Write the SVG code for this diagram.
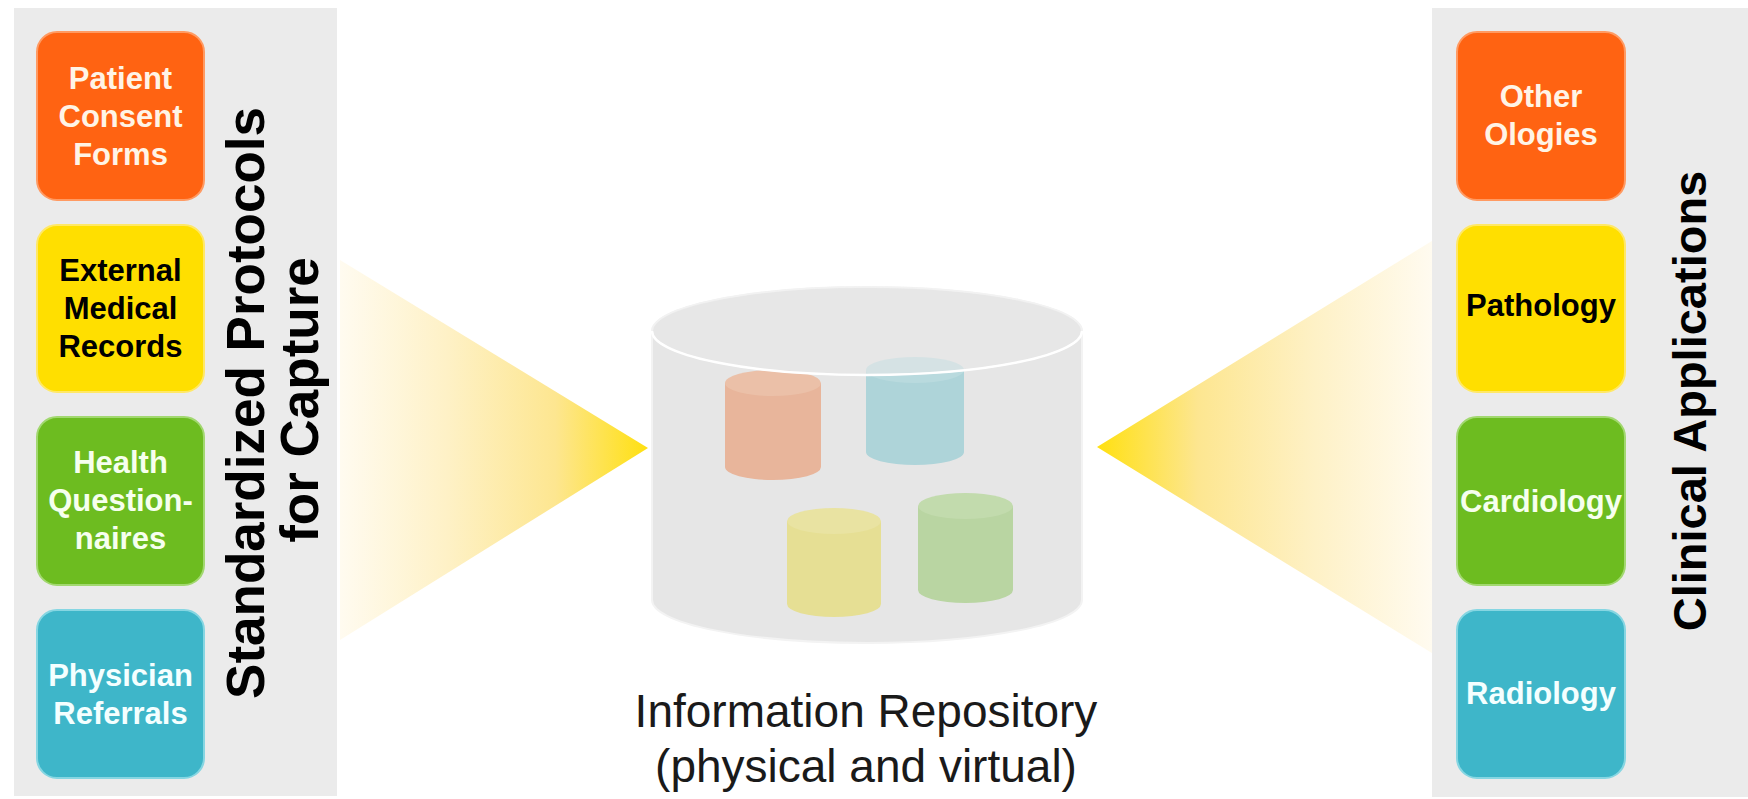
<svg xmlns="http://www.w3.org/2000/svg" width="1748" height="799" viewBox="0 0 1748 799">
<defs>
<style>
.panel{fill:#EBEBEB}
.box{stroke-width:2}
.bt{font-family:"Liberation Sans",Arial,sans-serif;font-weight:bold;font-size:31px;text-anchor:middle}
.title{font-family:"Liberation Sans",Arial,sans-serif;font-weight:bold;fill:#000;text-anchor:middle}
.cap{font-family:"Liberation Sans",Arial,sans-serif;font-size:46px;fill:#1a1a1a;text-anchor:middle}
</style>
<linearGradient id="gL" gradientUnits="userSpaceOnUse" x1="340" y1="0" x2="648" y2="0">
<stop offset="0" stop-color="#FFFBF0"/>
<stop offset="0.35" stop-color="#FEF1C6"/>
<stop offset="0.7" stop-color="#FDE690"/>
<stop offset="1" stop-color="#FFE010"/>
</linearGradient>
<linearGradient id="gR" gradientUnits="userSpaceOnUse" x1="1432" y1="0" x2="1097" y2="0">
<stop offset="0" stop-color="#FFFBF0"/>
<stop offset="0.35" stop-color="#FEF1C6"/>
<stop offset="0.7" stop-color="#FDE690"/>
<stop offset="1" stop-color="#FFE010"/>
</linearGradient>
</defs>
<rect width="1748" height="799" fill="#FFFFFF"/>

<g id="connectors">
<polygon points="340,260 648,448 340,640" fill="url(#gL)"/>
<polygon points="1440,236 1097,447 1440,658" fill="url(#gR)"/>
</g>

<g id="left-panel">
<rect class="panel" x="14" y="8" width="323" height="788"/>
<text class="title" font-size="53" transform="translate(264,403) rotate(-90)">Standardized Protocols</text>
<text class="title" font-size="53" transform="translate(318,400) rotate(-90)">for Capture</text>
</g>
<g id="right-panel">
<rect class="panel" x="1432" y="8" width="316" height="789"/>
<text class="title" font-size="47" transform="translate(1706,401) rotate(-90)">Clinical Applications</text>
</g>

<g id="patient-consent-forms">
<rect class="box" x="37" y="32" width="167" height="168" rx="20" fill="#FF6312" stroke="#FF9A62"/>
<text class="bt" fill="#FFF4E6"><tspan x="120.5" y="89">Patient</tspan><tspan x="120.5" y="127">Consent</tspan><tspan x="120.5" y="165">Forms</tspan></text>
</g>
<g id="external-medical-records">
<rect class="box" x="37" y="225" width="167" height="167" rx="20" fill="#FFDF00" stroke="#FFE866"/>
<text class="bt" fill="#000000"><tspan x="120.5" y="281">External</tspan><tspan x="120.5" y="319">Medical</tspan><tspan x="120.5" y="357">Records</tspan></text>
</g>
<g id="health-questionnaires">
<rect class="box" x="37" y="417" width="167" height="168" rx="20" fill="#6DBC20" stroke="#A2D870"/>
<text class="bt" fill="#F6FFEE"><tspan x="120.5" y="473">Health</tspan><tspan x="120.5" y="511">Question-</tspan><tspan x="120.5" y="549">naires</tspan></text>
</g>
<g id="physician-referrals">
<rect class="box" x="37" y="610" width="167" height="168" rx="20" fill="#3EB6C9" stroke="#86D6E2"/>
<text class="bt" fill="#F4FFFF"><tspan x="120.5" y="686">Physician</tspan><tspan x="120.5" y="724">Referrals</tspan></text>
</g>

<g id="other-ologies">
<rect class="box" x="1457" y="32" width="168" height="168" rx="20" fill="#FF6312" stroke="#FF9A62"/>
<text class="bt" fill="#FFF4E6"><tspan x="1541" y="107">Other</tspan><tspan x="1541" y="145">Ologies</tspan></text>
</g>
<g id="pathology">
<rect class="box" x="1457" y="225" width="168" height="167" rx="20" fill="#FFDF00" stroke="#FFE866"/>
<text class="bt" fill="#000000" x="1541" y="316">Pathology</text>
</g>
<g id="cardiology">
<rect class="box" x="1457" y="417" width="168" height="168" rx="20" fill="#6DBC20" stroke="#A2D870"/>
<text class="bt" fill="#F6FFEE" x="1541" y="512">Cardiology</text>
</g>
<g id="radiology">
<rect class="box" x="1457" y="610" width="168" height="168" rx="20" fill="#3EB6C9" stroke="#86D6E2"/>
<text class="bt" fill="#F4FFFF" x="1541" y="704">Radiology</text>
</g>

<g id="information-repository">
<path d="M652,331 A215,44 0 0 1 1082,331 L1082,600 A215,43 0 0 1 652,600 Z" fill="#E6E6E6" stroke="#F3F3F3" stroke-width="2"/>
<g id="db-orange">
<path d="M725,383 L725,467 A48,13 0 0 0 821,467 L821,383 Z" fill="#E8B59B"/>
<ellipse cx="773" cy="383" rx="48" ry="13" fill="#EBC0A8"/>
</g>
<g id="db-blue">
<path d="M866,370 L866,452 A49,13 0 0 0 964,452 L964,370 Z" fill="#AED4D9"/>
<ellipse cx="915" cy="370" rx="49" ry="13" fill="#B9DADE"/>
</g>
<g id="db-yellow">
<path d="M787,521 L787,604 A47,13 0 0 0 881,604 L881,521 Z" fill="#E6DF94"/>
<ellipse cx="834" cy="521" rx="47" ry="13" fill="#E9E3A2"/>
</g>
<g id="db-green">
<path d="M918,506 L918,590 A47.5,13 0 0 0 1013,590 L1013,506 Z" fill="#B9D5A2"/>
<ellipse cx="965.5" cy="506" rx="47.5" ry="13" fill="#C2DBAD"/>
</g>
<ellipse cx="867" cy="331" rx="215" ry="44" fill="#E7E7E7" fill-opacity="0.6" stroke="#F2F2F2" stroke-width="1.5"/>
<path d="M652,331 A215,44 0 0 0 1082,331" fill="none" stroke="#FFFFFF" stroke-width="2.5"/>
<text class="cap"><tspan x="866" y="727">Information Repository</tspan><tspan x="866" y="782">(physical and virtual)</tspan></text>
</g>
</svg>
